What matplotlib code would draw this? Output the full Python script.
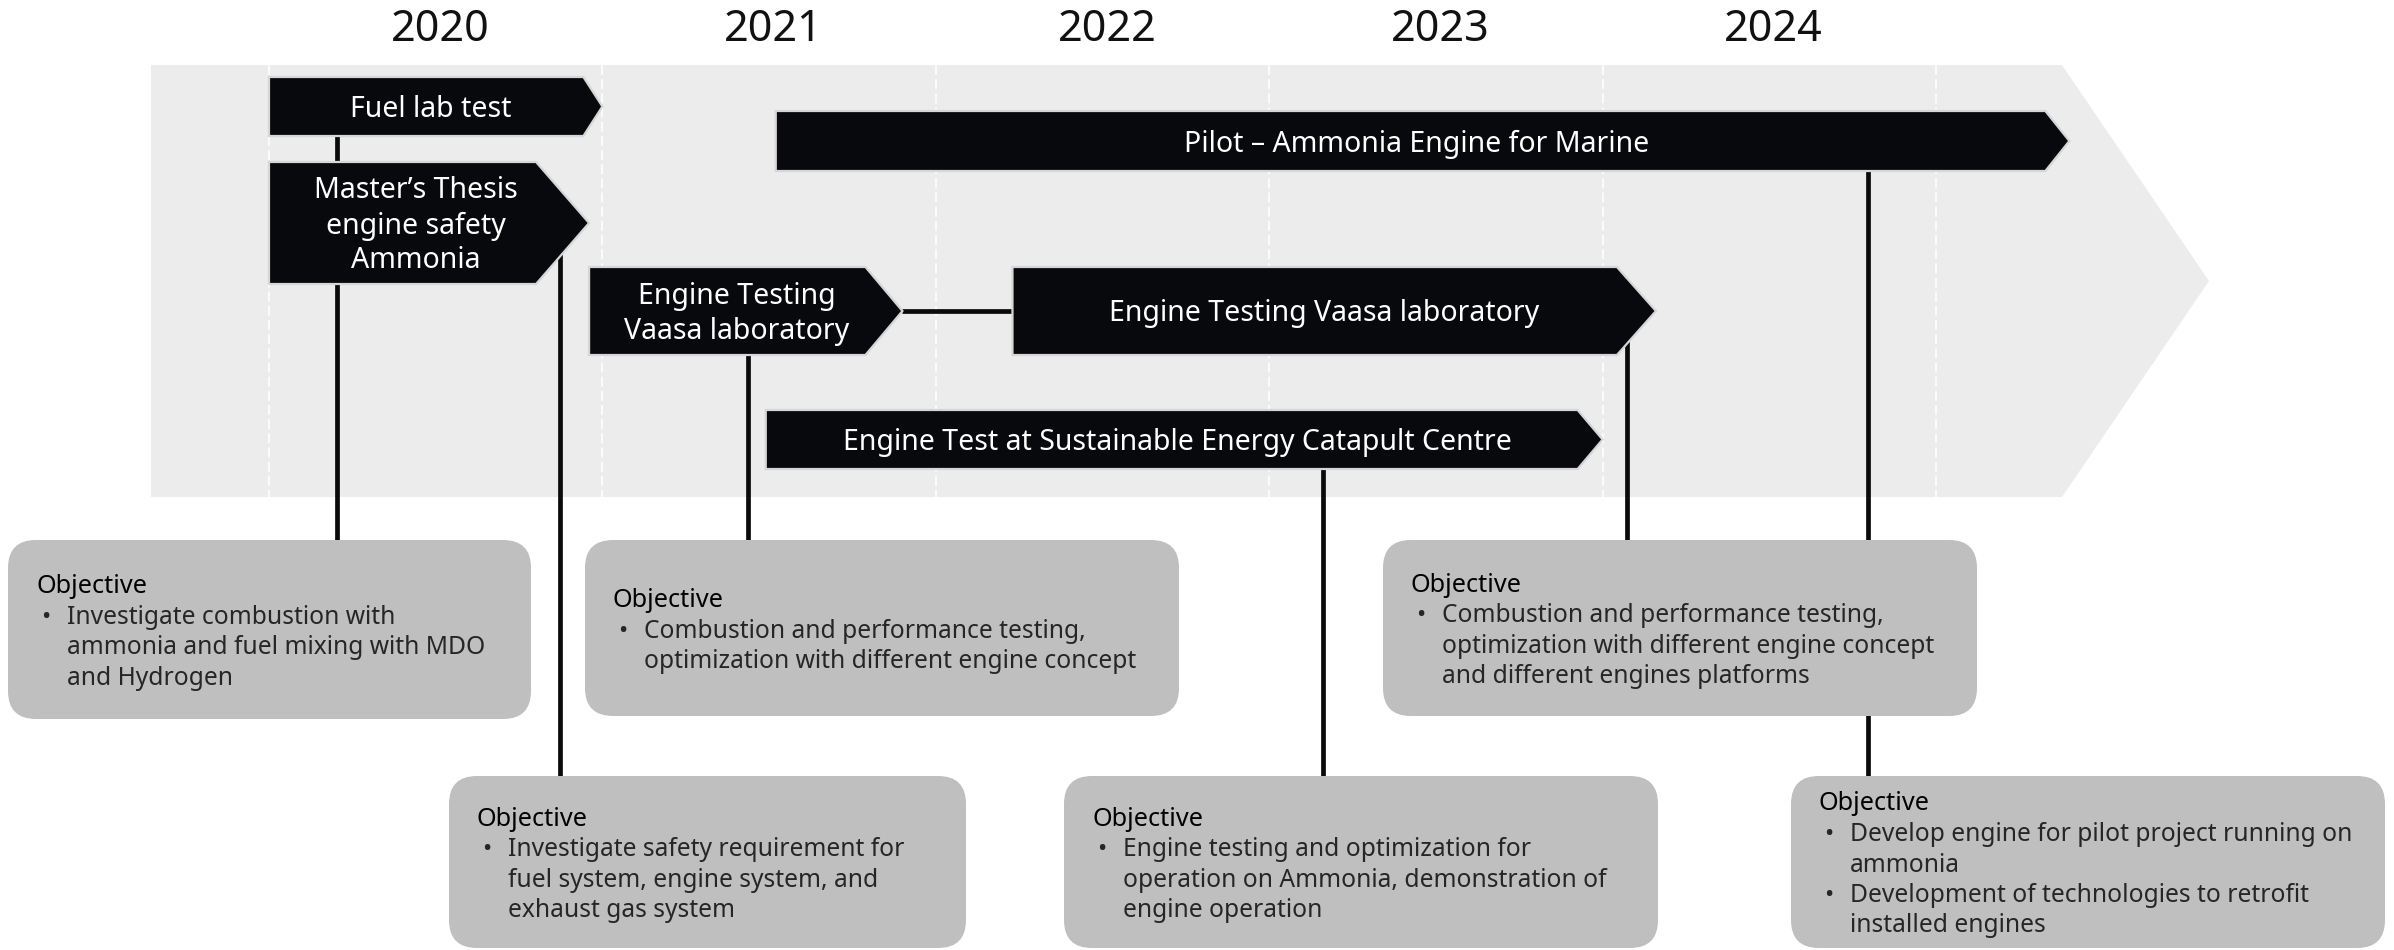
"""Ammonia engine development timeline, 2020-2024."""
import matplotlib

matplotlib.use("Agg")
import matplotlib.pyplot as plt
from matplotlib.patches import FancyBboxPatch, Polygon

plt.rcParams["font.family"] = ["Noto Sans", "DejaVu Sans"]

# --- data -------------------------------------------------------------
year_labels = ["2020", "2021", "2022", "2023", "2024"]
grid_years = [2020, 2021, 2022, 2023, 2024, 2025]

bar_labels = [
    "Fuel lab test",
    "Master\u2019s Thesis\nengine safety\nAmmonia",
    "Engine Testing\nVaasa laboratory",
    "Engine Testing Vaasa laboratory",
    "Engine Test at Sustainable Energy Catapult Centre",
    "Pilot \u2013 Ammonia Engine for Marine",
]
bar_start = [2020.0, 2020.0, 2020.96, 2022.23, 2021.49, 2021.52]
bar_end = [2021.0, 2020.96, 2021.9, 2024.16, 2024.0, 2025.4]

objectives = [
    [["Investigate combustion with", "ammonia and fuel mixing with MDO", "and Hydrogen"]],
    [["Combustion and performance testing,", "optimization with different engine concept"]],
    [["Combustion and performance testing,", "optimization with different engine concept",
      "and different engines platforms"]],
    [["Investigate safety requirement for", "fuel system, engine system, and",
      "exhaust gas system"]],
    [["Engine testing and optimization for", "operation on Ammonia, demonstration of",
      "engine operation"]],
    [["Develop engine for pilot project running on", "ammonia"],
     ["Development of technologies to retrofit", "installed engines"]],
]

# --- layout (pixels of the 2394x950 canvas) ----------------------------
W, H = 2394, 950
PX_YEAR = 333.4
X2020 = 269


def yr(px):
    return 2020 + (px - X2020) / PX_YEAR


# top, bottom, arrow-tip length
bar_rows = [(77, 136, 19), (162, 284, 53), (267, 355, 37),
            (267, 355, 39), (410, 469, 25), (111, 171, 24)]
# left, top, right, bottom
box_rect = [(8, 540, 531, 719), (585, 540, 1179, 716), (1383, 540, 1977, 716),
            (449, 776, 966, 948), (1064, 776, 1658, 948), (1791, 776, 2385, 948)]
# x, y0, y1
links = [(337, 130, 170), (337, 280, 540), (560, 230, 776), (748, 350, 540),
         (1323, 465, 776), (1627, 320, 540), (1868, 165, 776)]

fig = plt.figure(figsize=(W / 100, H / 100), dpi=100)
ax = fig.add_axes([0, 0, 1, 1])
ax.set_xlim(yr(0), yr(W))
ax.set_ylim(H, 0)
ax.set_axis_off()

# background arrow band
band = [(yr(151), 65), (yr(2062), 65), (yr(2209), 281), (yr(2062), 497), (yr(151), 497)]
ax.add_patch(Polygon(band, closed=True, fc="#ececec", ec="none", zorder=0))
ax.vlines(grid_years, 65, 497, colors="white", lw=1.2, linestyles=(0, (6, 2.5)), zorder=1)

for lab, yv in zip(year_labels, grid_years):
    ax.text(yv + 0.513, 30, lab, ha="center", va="center", fontsize=31, color="#111111")

# connectors
for x, y0, y1 in links:
    ax.plot([yr(x), yr(x)], [y0, y1], color="#0a0a0a", lw=3.4, solid_capstyle="butt", zorder=2)
ax.plot([bar_end[2], bar_start[3]], [311, 311], color="#0a0a0a", lw=3.4,
        solid_capstyle="butt", zorder=2)

# activity arrows
for lab, x0, x1, (top, bot, tip) in zip(bar_labels, bar_start, bar_end, bar_rows):
    xr = x1 - tip / PX_YEAR
    mid = (top + bot) / 2
    pts = [(x0, top), (xr, top), (x1, mid), (xr, bot), (x0, bot)]
    ax.add_patch(Polygon(pts, closed=True, fc="#07090d", ec="#d6d6d6", lw=1.6,
                         joinstyle="miter", zorder=3))
    lines = lab.split("\n")
    cx = (x0 + xr) / 2 + 0.25 * tip / PX_YEAR
    for i, ln in enumerate(lines):
        ty = mid + 3 + (i - (len(lines) - 1) / 2) * 35
        ax.text(cx, ty, ln, ha="center", va="center", fontsize=20.5, color="white", zorder=4)

# objective boxes
LINE = 30.5
for (l, t, r, b), bullets in zip(box_rect, objectives):
    ax.add_patch(FancyBboxPatch((yr(l), t), yr(r) - yr(l), b - t,
                                boxstyle=f"round,pad=0,rounding_size={28 / PX_YEAR}",
                                mutation_aspect=PX_YEAR, fc="#bfbfbf", ec="none", zorder=5))
    n = 1 + sum(len(bl) for bl in bullets)
    y = (t + b) / 2 - (n - 1) / 2 * LINE + 3
    ax.text(yr(l + 28), y, "Objective", ha="left", va="center", fontsize=18.2,
            color="black", zorder=6)
    for bl in bullets:
        for j, ln in enumerate(bl):
            y += LINE
            if j == 0:
                ax.text(yr(l + 33), y, "\u2022", ha="left", va="center", fontsize=17.7,
                        color="#262626", zorder=6)
            ax.text(yr(l + 59), y, ln, ha="left", va="center", fontsize=17.7,
                    fontweight="light", color="#262626", zorder=6)

fig.savefig("out.png", dpi=100)
